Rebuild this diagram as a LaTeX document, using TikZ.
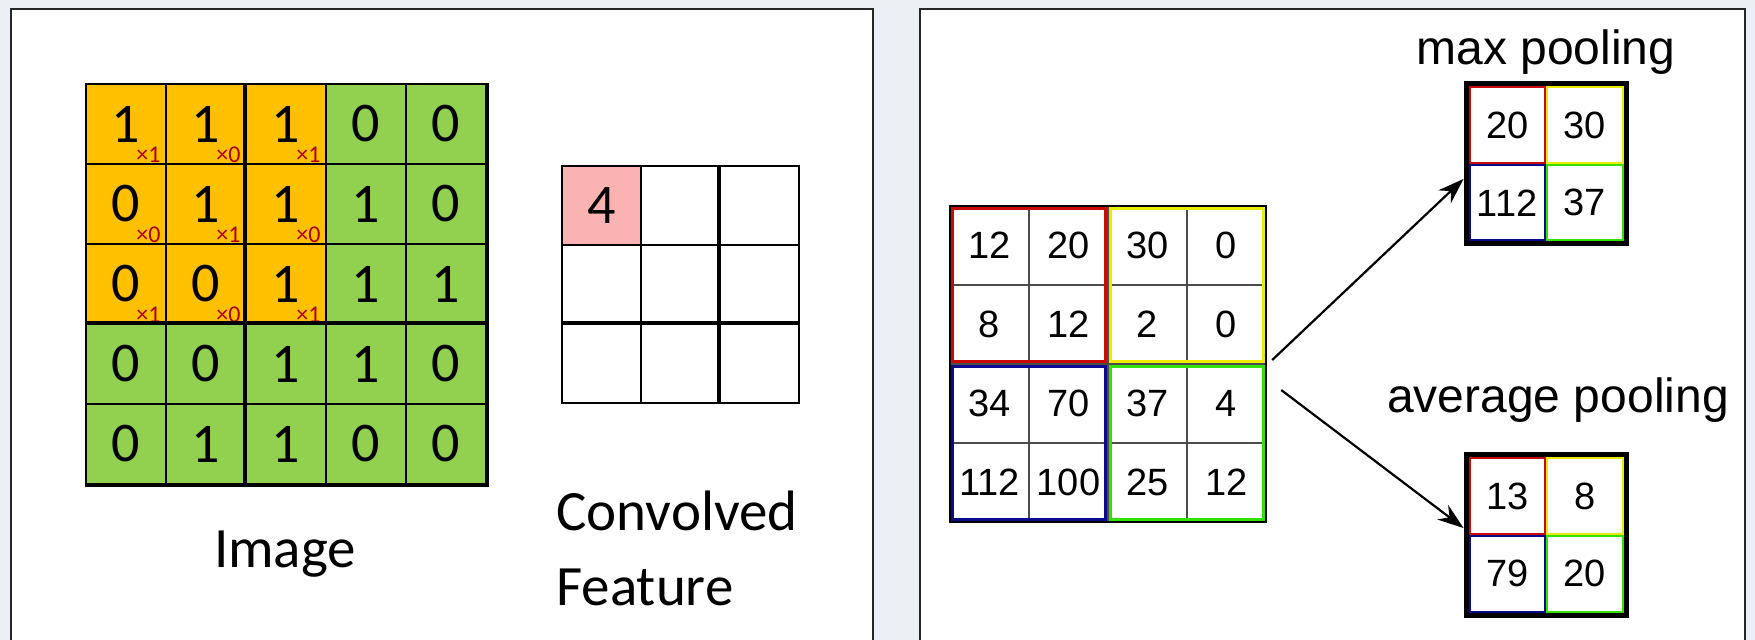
\documentclass[tikz,border=0pt]{standalone}
\usepackage{fontspec}
\setmainfont{Carlito}
\newfontfamily\arialfont{Liberation Sans}
\usetikzlibrary{arrows.meta}

\definecolor{slidebg}{RGB}{236,240,244}
\definecolor{kernelorange}{RGB}{255,192,0}
\definecolor{imggreen}{RGB}{146,208,80}
\definecolor{featpink}{RGB}{250,178,178}
\definecolor{weightred}{RGB}{175,0,0}
\definecolor{quadred}{RGB}{200,10,10}
\definecolor{quadyellow}{RGB}{235,235,0}
\definecolor{quadblue}{RGB}{10,10,140}
\definecolor{quadgreen}{RGB}{50,225,0}

\tikzset{
  imgcell/.style={draw, line width=1pt, minimum size=40pt, inner sep=0pt, font=\fontsize{28}{28}\selectfont},
  weight/.style={text=weightred, inner sep=0pt, font=\fontsize{12}{12}\selectfont},
  featcell/.style={draw, line width=1pt, minimum size=39.5pt, inner sep=0pt, font=\fontsize{28}{28}\selectfont},
  poolcell/.style={draw=black!70, line width=0.6pt, minimum size=39.5pt, inner sep=0pt, font=\arialfont\fontsize{19}{19}\selectfont},
  outcell/.style={line width=1pt, minimum size=37.75pt, inner sep=0pt, font=\arialfont\fontsize{19}{19}\selectfont},
  caption/.style={inner sep=0pt, font=\fontsize{28.5}{37.5}\selectfont},
  poolcaption/.style={inner sep=0pt, font=\arialfont\fontsize{24}{24}\selectfont},
  poolarrow/.style={-{Stealth[length=13pt,width=9pt]}, line width=1.1pt},
}

\begin{document}
\begin{tikzpicture}[x=0.5pt, y=-0.5pt]
  \useasboundingbox (0,0) rectangle (1755,640);
  \fill[slidebg] (0,0) rectangle (1755,640);
  \draw[fill=white, draw=black!85, line width=1pt] (11,9) rectangle (873,660);
  \draw[fill=white, draw=black!85, line width=1pt] (920,9) rectangle (1745,660);

  \fill[imggreen] (86,84) rectangle (486,484);
  \fill[kernelorange] (86,84) rectangle (326,324);
  \foreach \row [count=\r] in {{1,1,1,0,0},{0,1,1,1,0},{0,0,1,1,1},{0,0,1,1,0},{0,1,1,0,0}}
    \foreach \v [count=\c] in \row
      \node[imgcell] (img-\r-\c) at (46+80*\c, 44+80*\r) {\v};
  \foreach \row [count=\r] in {{1,0,1},{0,1,0},{1,0,1}}
    \foreach \w [count=\c] in \row
      \node[weight, anchor=south east] (w-\r-\c) at ([xshift=-3pt, yshift=1pt]img-\r-\c.south east) {×\w};
  \draw[line width=1.8pt] (img-1-3.north west) -- (img-5-3.south west);
  \draw[line width=1.8pt] (img-4-1.north west) -- (img-4-5.north east);
  \draw[line width=1.6pt] (img-1-5.north east) -- (img-5-5.south east) -- (img-5-1.south west);

  \foreach \r in {1,2,3}
    \foreach \c in {1,2,3}
      \node[featcell] (feat-\r-\c) at (522.5+79*\c, 126.5+79*\r) {};
  \node[featcell, fill=featpink] (feat-val) at (feat-1-1) {4};
  \draw[line width=1.8pt] (feat-1-3.north west) -- (feat-3-3.south west);
  \draw[line width=1.8pt] (feat-3-1.north west) -- (feat-3-3.north east);

  \node[caption] (imglabel) at (285,554) {Image};
  \node[caption, anchor=west, align=left] (featlabel) at (556,548) {Convolved\\Feature};

  \foreach \row [count=\r] in {{12,20,30,0},{8,12,2,0},{34,70,37,4},{112,100,25,12}}
    \foreach \v [count=\c] in \row
      \node[poolcell] (pin-\r-\c) at (910.5+79*\c, 166.5+79*\r) {\v};
  \draw[quadred, line width=1.8pt] ([shift={(1.5pt,-1.5pt)}]pin-1-1.north west) rectangle ([shift={(-1.5pt,1.5pt)}]pin-2-2.south east);
  \draw[quadyellow, line width=1.8pt] ([shift={(1.5pt,-1.5pt)}]pin-1-3.north west) rectangle ([shift={(-1.5pt,1.5pt)}]pin-2-4.south east);
  \draw[quadblue, line width=1.8pt] ([shift={(1.5pt,-1.5pt)}]pin-3-1.north west) rectangle ([shift={(-1.5pt,1.5pt)}]pin-4-2.south east);
  \draw[quadgreen, line width=1.8pt] ([shift={(1.5pt,-1.5pt)}]pin-3-3.north west) rectangle ([shift={(-1.5pt,1.5pt)}]pin-4-4.south east);
  \node[draw, line width=1.2pt, minimum size=158pt, inner sep=0pt] (poolin) at (1108,364) {};

  \foreach \v/\col/\px/\py [count=\i] in {20/quadred/1507.25/125.25, 30/quadyellow/1584.75/125.25, 112/quadblue/1507.25/202.75, 37/quadgreen/1584.75/202.75}
    \node[outcell, draw=\col] (max-\i) at (\px,\py) {\v};
  \node[draw, line width=2.5pt, minimum size=80pt, inner sep=0pt] (maxout) at (1546,164) {};
  \foreach \v/\col/\px/\py [count=\i] in {13/quadred/1507.25/496.25, 8/quadyellow/1584.75/496.25, 79/quadblue/1507.25/573.75, 20/quadgreen/1584.75/573.75}
    \node[outcell, draw=\col] (avg-\i) at (\px,\py) {\v};
  \node[draw, line width=2.5pt, minimum size=80pt, inner sep=0pt] (avgout) at (1546,535) {};

  \node[poolcaption] (maxlabel) at (1546,52) {max pooling};
  \node[poolcaption] (avglabel) at (1558,400) {average pooling};

  \draw[poolarrow] ([xshift=2.5pt, yshift=2pt]poolin.east) to ([yshift=-7.5pt]maxout.west);
  \draw[poolarrow] ([xshift=7pt, yshift=-13pt]poolin.east) to ([yshift=3.5pt]avgout.west);
\end{tikzpicture}
\end{document}
